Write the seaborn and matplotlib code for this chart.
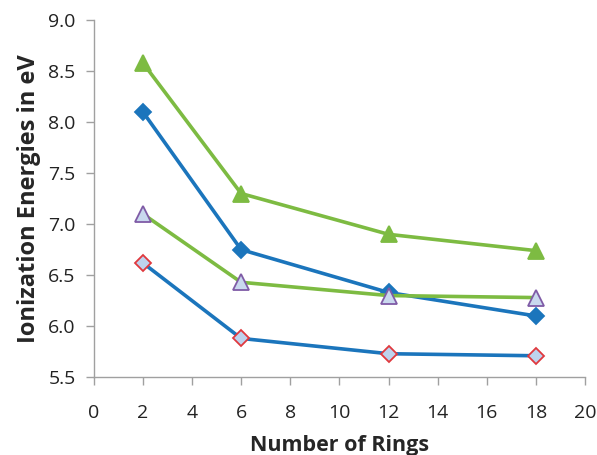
import pandas as pd
import seaborn as sns
import matplotlib.pyplot as plt

# Data
rings = [2, 6, 12, 18]
green_filled = [8.58, 7.30, 6.90, 6.74]
blue_filled = [8.10, 6.75, 6.33, 6.10]
green_open = [7.10, 6.43, 6.30, 6.28]
blue_open = [6.62, 5.88, 5.73, 5.71]

x_ticks = [0, 2, 4, 6, 8, 10, 12, 14, 16, 18, 20]
y_ticks = [5.5, 6.0, 6.5, 7.0, 7.5, 8.0, 8.5, 9.0]

sns.set_style("white")
plt.rcParams['font.family'] = ['Open Sans', 'DejaVu Sans']

green = '#7DBB42'
blue = '#1B75BC'

fig = plt.figure(figsize=(5.97, 4.55), dpi=100)
ax = fig.add_axes([0.157, 0.171, 0.823, 0.785])

series = [
    (green_filled, green, '^', green, green, 11),
    (blue_filled, blue, 'D', blue, blue, 8),
    (green_open, green, '^', '#C9D8EE', '#7F5BA6', 11),
    (blue_open, blue, 'D', '#BDD3EE', '#E0393E', 8),
]

for vals, lc, mk, fc, ec, ms in series:
    df = pd.DataFrame({'rings': rings, 'ie': vals})
    sns.lineplot(data=df, x='rings', y='ie', ax=ax, color=lc, linewidth=2.6,
                 marker=mk, markersize=ms, markerfacecolor=fc,
                 markeredgecolor=ec, markeredgewidth=1.3)

ax.set_xlim(0, 20)
ax.set_ylim(5.5, 9.0)
ax.set_xticks(x_ticks)
ax.set_yticks(y_ticks)
ax.set_yticklabels([f"{v:.1f}" for v in y_ticks])

for side in ['top', 'right']:
    ax.spines[side].set_visible(False)
for side in ['left', 'bottom']:
    ax.spines[side].set_color('#A0A0A0')
    ax.spines[side].set_linewidth(1.0)

ax.tick_params(axis='both', which='major', direction='out', length=6,
               width=1.0, color='#A0A0A0', labelsize=14, labelcolor='#222222',
               bottom=True, left=True)
ax.tick_params(axis='x', pad=13)
ax.tick_params(axis='y', pad=7)

ax.set_xlabel("Number of Rings", fontsize=15.5, fontweight='bold', labelpad=10)
ax.set_ylabel("Ionization Energies in eV", fontsize=17, fontweight='bold', labelpad=5)

fig.savefig("out.png", dpi=100)
